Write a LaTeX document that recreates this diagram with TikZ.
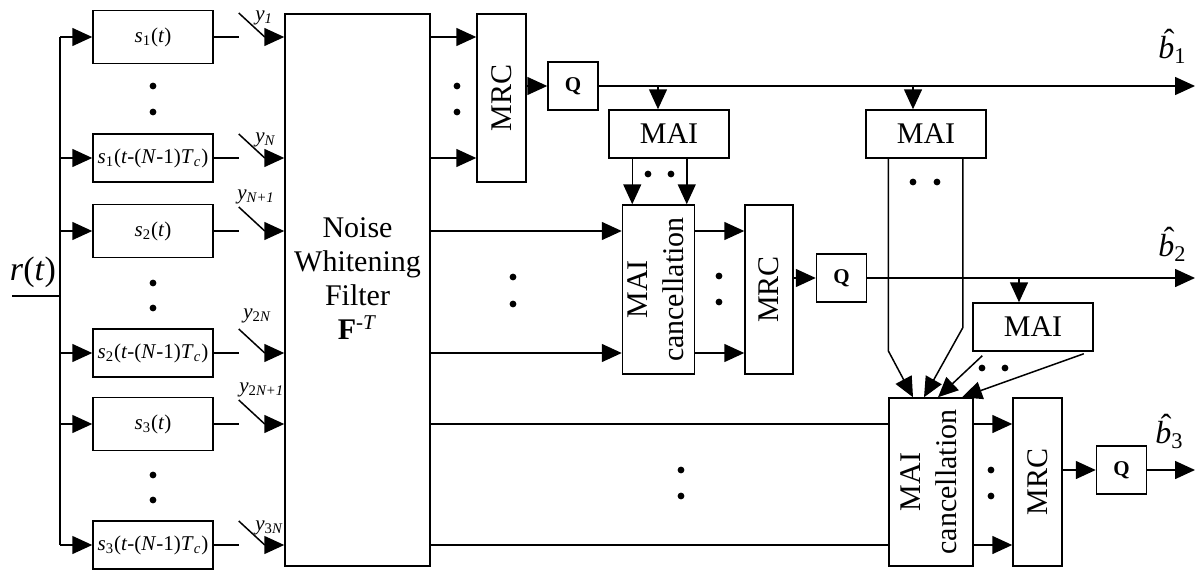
\documentclass[tikz,border=0pt]{standalone}
\usepackage{fontspec}
\usepackage{graphicx}
\setmainfont{Liberation Serif}
\usetikzlibrary{arrows.meta,calc}
\newcommand{\bhat}[1]{\rlap{\hspace{0.17em}\raisebox{0.2em}{ˆ}}\textit{b}\textsubscript{#1}}

\begin{document}
\begin{tikzpicture}[
  x=0.5pt,y=-0.5pt,
  line/.style={draw=black,line width=0.75pt},
  arr/.style={line,-{Triangle[length=10pt,width=9pt]}},
  box/.style={line,inner sep=0pt,font=\fontsize{10.5}{12}\selectfont},
  big/.style={font=\fontsize{15}{17}\selectfont},
  qbox/.style={box,minimum width=25pt,minimum height=24pt,font=\fontsize{10.5}{12}\selectfont\bfseries},
  maibox/.style={box,big,minimum width=60pt,minimum height=24pt},
  ylab/.style={anchor=base west,inner sep=0pt,font=\fontsize{10.5}{12}\selectfont\itshape},
  hatlab/.style={anchor=base west,inner sep=0pt,font=\fontsize{16}{18}\selectfont},
]
\useasboundingbox (0,0) rectangle (1198,573);

% matched filter bank
\foreach \n/\y/\h/\t in {
  s1a/37/26.5pt/{\textit{s}\textsubscript{1}(\textit{t})},
  s1b/158/24pt/{\textit{s}\textsubscript{1}(\textit{t}-(\textit{N}-1)\textit{T}\textsubscript{\textit{c}})},
  s2a/231/26.5pt/{\textit{s}\textsubscript{2}(\textit{t})},
  s2b/353/24pt/{\textit{s}\textsubscript{2}(\textit{t}-(\textit{N}-1)\textit{T}\textsubscript{\textit{c}})},
  s3a/424/26.5pt/{\textit{s}\textsubscript{3}(\textit{t})},
  s3b/545/24pt/{\textit{s}\textsubscript{3}(\textit{t}-(\textit{N}-1)\textit{T}\textsubscript{\textit{c}})}}
  \node[box,minimum width=60pt,minimum height=\h] (\n) at (153,\y) {\t};

\node[box,minimum width=72.5pt,minimum height=276pt] (filt) at (357.5,290) {};
\node[big,align=center] (filtlab) at (357.5,279)
  {Noise\\Whitening\\Filter\\\textbf{F}\textsuperscript{-\textit{T}}};

% input bus
\coordinate (bus) at (60,296);
\coordinate (rin) at (12,296);
\node[font=\fontsize{17}{19}\selectfont] (rlab) at (33,272) {\textit{r}(\textit{t})};
\draw[line] (rin) -- (bus);
\draw[line] (s1a.west -| bus) -- (s3b.west -| bus);
\foreach \n in {s1a,s1b,s2a,s2b,s3a,s3b}{
  \draw[arr] (\n.west -| bus) -- (\n.west);
  \draw[line] (\n.east) -- ++(25,0) coordinate (\n o);
  \draw[line] ($(\n o)+(0,-24)$) -- ++(26,24) coordinate (\n sw);
  \draw[arr] (\n sw) -- (\n sw -| filt.west);
}
\node[ylab] (y1) at (255,20) {y\textsubscript{1}};
\node[ylab] (yN) at (255,142) {y\textsubscript{N}};
\node[ylab] (yN1) at (237,199) {y\textsubscript{N+1}};
\node[ylab] (y2N) at (243,318) {y\textsubscript{\upshape 2\itshape N}};
\node[ylab] (y2N1) at (239,392) {y\textsubscript{\upshape 2\itshape N+1}};
\node[ylab] (y3N) at (255,530) {y\textsubscript{\upshape 3\itshape N}};

% user 1
\node[box,minimum width=24.5pt,minimum height=84pt] (mrc1) at (501.5,98)
  {\rotatebox{90}{\fontsize{15}{17}\selectfont MRC}};
\node[qbox] (q1) at (573,86) {Q};
\coordinate (b1end) at (1195,86);
\draw[arr] (filt.east |- s1a) -- (mrc1.west |- s1a);
\draw[arr] (filt.east |- s1b) -- (mrc1.west |- s1b);
\draw[arr] (mrc1.east |- q1) -- (q1.west);
\draw[arr] (q1.east) -- (b1end);
\node[hatlab] (b1lab) at (1158,58) {\bhat{1}};

% user 2
\node[maibox] (mai1) at (669,134) {MAI};
\node[box,minimum width=35.5pt,minimum height=84.5pt] (maic1) at (658.5,289.5)
  {\rotatebox{90}{\fontsize{15}{18}\selectfont\begin{tabular}{@{}c@{}}MAI\\cancellation\end{tabular}}};
\node[box,minimum width=24pt,minimum height=84.5pt] (mrc2) at (769,289.5)
  {\rotatebox{90}{\fontsize{15}{17}\selectfont MRC}};
\node[qbox] (q2) at (841.5,278) {Q};
\coordinate (b2end) at (1195,278);
\coordinate (t1) at ($(mai1.north)+(-11,0)$);
\coordinate (m1a) at ($(mai1.south west)+(24,0)$);
\coordinate (m1b) at ($(mai1.south east)+(-43,0)$);
\draw[arr] (t1 |- q1) -- (t1);
\draw[arr] (m1a) -- (m1a |- maic1.north);
\draw[arr] (m1b) -- (m1b |- maic1.north);
\draw[arr] (filt.east |- s2a) -- (maic1.west |- s2a);
\draw[arr] (filt.east |- s2b) -- (maic1.west |- s2b);
\draw[arr] (maic1.east |- s2a) -- (mrc2.west |- s2a);
\draw[arr] (maic1.east |- s2b) -- (mrc2.west |- s2b);
\draw[arr] (mrc2.east |- q2) -- (q2.west);
\draw[arr] (q2.east) -- (b2end);
\node[hatlab] (b2lab) at (1158,256) {\bhat{2}};

% user 3
\node[maibox] (mai2) at (926,134) {MAI};
\node[maibox] (mai3) at (1033,327) {MAI};
\node[box,minimum width=42pt,minimum height=84pt] (maic2) at (931,482)
  {\rotatebox{90}{\fontsize{15}{18}\selectfont\begin{tabular}{@{}c@{}}MAI\\cancellation\end{tabular}}};
\node[box,minimum width=24.5pt,minimum height=84pt] (mrc3) at (1037.5,482)
  {\rotatebox{90}{\fontsize{15}{17}\selectfont MRC}};
\node[qbox] (q3) at (1121.5,470) {Q};
\coordinate (b3end) at (1195,470);
\coordinate (t2) at ($(mai2.north)+(-13,0)$);
\coordinate (t3) at ($(mai3.north)+(-14,0)$);
\draw[arr] (t2 |- q1) -- (t2);
\draw[arr] (t3 |- q2) -- (t3);
\draw[arr] ($(mai2.south west)+(23,0)$) -- ++(0,192) -- ($(maic2.north)+(-18,0)$);
\draw[arr] ($(mai2.south east)+(-24,0)$) -- ++(0,169) -- ($(maic2.north)+(-7,0)$);
\draw[arr] ($(mai3.south west)+(10,4)$) -- ($(maic2.north)+(7,0)$);
\draw[arr] ($(mai3.south east)+(-10,2)$) -- ($(maic2.north)+(31,0)$);
\draw[line] (filt.east |- s3a) -- (maic2.west |- s3a);
\draw[line] (filt.east |- s3b) -- (maic2.west |- s3b);
\draw[arr] (maic2.east |- s3a) -- (mrc3.west |- s3a);
\draw[arr] (maic2.east |- s3b) -- (mrc3.west |- s3b);
\draw[arr] (mrc3.east |- q3) -- (q3.west);
\draw[arr] (q3.east) -- (b3end);
\node[hatlab] (b3lab) at (1155,443) {\bhat{3}};

% dots
\foreach \x/\y in {153/86,153/112,153/283,153/308,153/475,153/500,
  457/86,457/112,648/174,671/174,513/277,513/304,719/276,719/302,
  913/182,937/182,982/368,1005/368,681/470,681/496,991/470,991/496}
  \fill (\x,\y) circle (1.7pt);
\end{tikzpicture}
\end{document}
